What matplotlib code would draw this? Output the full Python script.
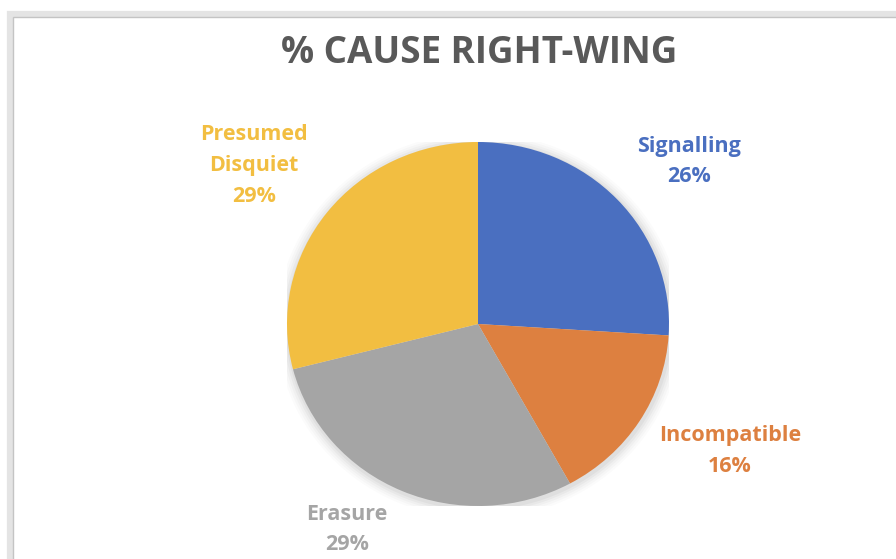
import matplotlib

matplotlib.use("Agg")
import matplotlib.pyplot as plt
from matplotlib.patches import Ellipse, Rectangle

# Share of each cause (right-wing), clockwise from 12 o'clock
CAUSES = ["Signalling", "Incompatible", "Erasure", "Presumed\nDisquiet"]
SHARES = [26, 16, 29, 29]
COLORS = ["#4A6FC0", "#DD8040", "#A5A5A5", "#F2BE41"]

# label anchor points in pie-radius units (x, y)
LABEL_POS = [(1.105, 0.893), (1.319, -0.70), (-0.686, -1.129), (-1.173, 0.871)]

W, H = 896, 559
plt.rcParams["font.family"] = ["Open Sans", "DejaVu Sans"]

fig = plt.figure(figsize=(W / 100, H / 100), dpi=100)
fig.patch.set_facecolor("white")

# chart frame (cut off on the right and bottom)
fig.add_artist(Rectangle((10 / W, -0.05), 1.1, (H - 14) / H + 0.05,
                         transform=fig.transFigure, fill=False,
                         edgecolor="#E4E4E4", linewidth=4.5))
fig.add_artist(Rectangle((13 / W, -0.05), 1.1, (H - 17) / H + 0.05,
                         transform=fig.transFigure, fill=False,
                         edgecolor="#C4C4C4", linewidth=1.0))

fig.text(479 / W, 1 - 53 / H, "% CAUSE RIGHT-WING", ha="center", va="center",
         fontsize=26.5, fontweight="bold", color="#595959")

# pie occupies pixels x 287..669, y 142..506
left, right, top, bottom = 287, 669, 142, 506
ax = fig.add_axes([left / W, (H - bottom) / H, (right - left) / W, (bottom - top) / H])

# soft shadow around the pie
for i, a in enumerate([0.035, 0.03, 0.025, 0.02, 0.015]):
    s = 1.0 + 0.012 * (i + 1)
    ax.add_patch(Ellipse((0.005, -0.01), 2 * s, 2 * s, facecolor="#000000",
                         alpha=a, edgecolor="none", zorder=0))

ax.pie(SHARES, colors=COLORS, startangle=90, counterclock=False,
       wedgeprops=dict(edgecolor="none", zorder=2))
ax.set_aspect("auto")
ax.set_xlim(-1, 1)
ax.set_ylim(-1, 1)
ax.axis("off")

for name, share, color, (x, y) in zip(CAUSES, SHARES, COLORS, LABEL_POS):
    ax.text(x, y, f"{name}\n{share}%", ha="center", va="center", fontsize=15.5,
            fontweight="bold", color=color, linespacing=1.62, clip_on=False)

fig.savefig("out.png", dpi=100, facecolor="white")
